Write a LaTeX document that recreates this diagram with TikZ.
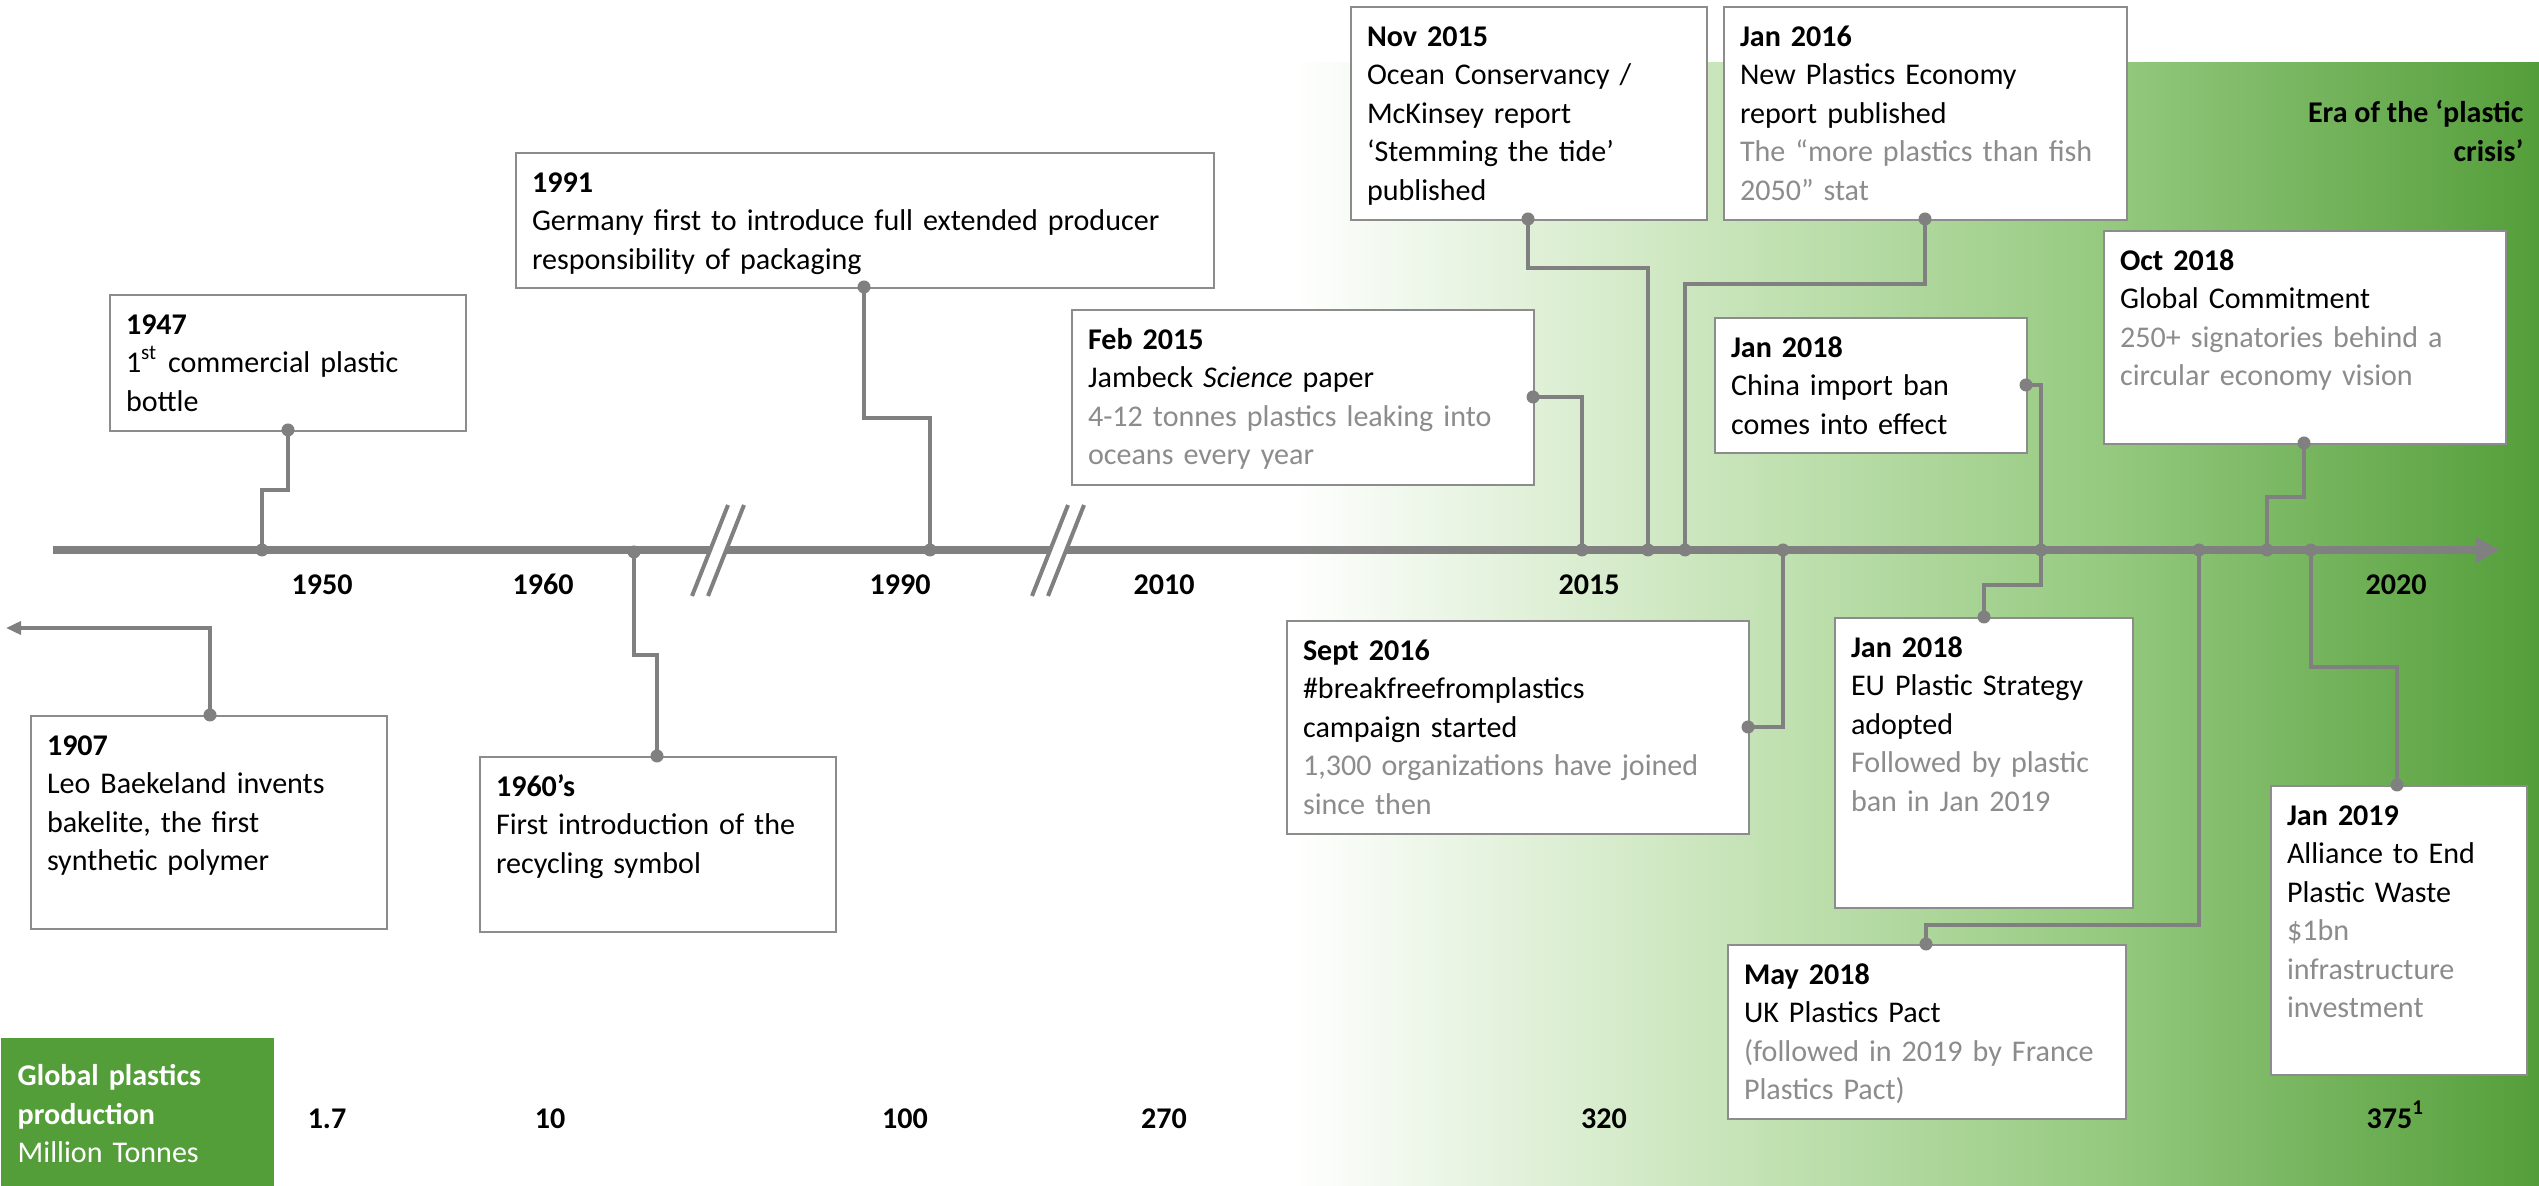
\documentclass[tikz,border=0pt]{standalone}
\usepackage{fontspec}
\setmainfont{Carlito}
\usepackage{tikz}
\usetikzlibrary{arrows.meta}

\definecolor{linegray}{RGB}{128,128,128}
\definecolor{boxgray}{RGB}{140,140,140}
\definecolor{textgray}{RGB}{140,140,140}
\definecolor{eralight}{RGB}{201,229,187}
\definecolor{eramid}{RGB}{150,202,128}
\definecolor{eradark}{RGB}{84,158,58}
\pgfdeclarehorizontalshading{erashade}{100bp}{color(0bp)=(white); color(25bp)=(white); color(42bp)=(eralight); color(57.5bp)=(eramid); color(75bp)=(eradark); color(100bp)=(eradark)}

\newcommand{\tlfont}{\fontsize{8.55pt}{10.96pt}\selectfont}

\begin{document}
\begin{tikzpicture}[x=0.01cm, y=-0.01cm, font=\tlfont]
      \tikzstyle{event} = [
        rectangle,
        draw=boxgray,
        line width=0.02cm,
        fill=white,
        anchor=north west,
        align=left,
        inner xsep=0.16cm,
        inner ysep=0.21cm,
        text height=0.18cm
      ]

      \tikzstyle{dot} = [
        circle,
        fill=linegray,
        minimum size=0.13cm,
        inner sep=0pt
      ]

      \tikzstyle{link} = [
        draw=linegray,
        line width=0.035cm
      ]

      \tikzstyle{timeline} = [
        draw=linegray,
        line width=0.077cm
      ]

      \tikzstyle{cut} = [
        draw=linegray,
        line width=0.04cm
      ]

      \tikzstyle{yearlabel} = [
        font=\tlfont\bfseries,
        anchor=base,
        inner sep=0pt
      ]

      \tikzstyle{prodbox} = [
        rectangle,
        fill=eradark,
        text=white,
        anchor=north west,
        align=left,
        text width=2.39cm,
        inner xsep=0.17cm,
        inner ysep=0.30cm,
        text height=0.18cm,
        text depth=0.71cm
      ]

      \useasboundingbox (0,0) rectangle (2539,1186);

      \shade[shading=erashade] (1290,63) rectangle (2539,1186);

      \node[prodbox] (prod) at (0,1037) {{\bfseries Global plastics}\\{\bfseries production}\\Million Tonnes};

      \coordinate (axl) at (53,550);
      \coordinate (axr) at (2500,550);
      \draw[timeline, -{Triangle[length=0.24cm, width=0.24cm]}] (axl) -- (axr);

      \fill[white] (728,505) -- (744,505) -- (708,596) -- (692,596) -- cycle;
      \draw[cut] (728,505) -- (692,596);
      \draw[cut] (744,505) -- (708,596);
      \fill[white] (1068,505) -- (1084,505) -- (1048,596) -- (1032,596) -- cycle;
      \draw[cut] (1068,505) -- (1032,596);
      \draw[cut] (1084,505) -- (1048,596);

      \node[event, text width=3.24cm, text depth=1.53cm] (b1907) at (30,715) {\textbf{1907}\\Leo Baekeland invents\\bakelite, the first\\synthetic polymer};
      \node[event, text width=3.24cm, text depth=1.15cm] (b1960) at (479,756) {\textbf{1960’s}\\First introduction of the\\recycling symbol};
      \node[event, text width=3.24cm, text depth=0.76cm] (b1947) at (109,294) {\textbf{1947}\\1\textsuperscript{st} commercial plastic\\bottle};
      \node[event, text width=6.66cm, text depth=0.75cm] (b1991) at (515,152) {\textbf{1991}\\Germany first to introduce full extended producer\\responsibility of packaging};
      \node[event, text width=4.30cm, text depth=1.15cm] (bFeb15) at (1071,309) {\textbf{Feb 2015}\\Jambeck \textit{Science} paper\\\color{textgray}4-12 tonnes plastics leaking into\\oceans every year};
      \node[event, text width=3.24cm, text depth=1.53cm] (bNov15) at (1350,6) {\textbf{Nov 2015}\\Ocean Conservancy /\\McKinsey report\\‘Stemming the tide’\\published};
      \node[event, text width=3.71cm, text depth=1.53cm] (bJan16) at (1723,6) {\textbf{Jan 2016}\\New Plastics Economy\\report published\\\color{textgray}The “more plastics than fish\\2050” stat};
      \node[event, text width=2.80cm, text depth=0.75cm] (bChina) at (1714,317) {\textbf{Jan 2018}\\China import ban\\comes into effect};
      \node[event, text width=3.70cm, text depth=1.53cm] (bOct18) at (2103,230) {\textbf{Oct 2018}\\Global Commitment\\\color{textgray}250+ signatories behind a\\circular economy vision};
      \node[event, text width=4.30cm, text depth=1.53cm] (bSept16) at (1286,620) {\textbf{Sept 2016}\\\#breakfreefromplastics\\campaign started\\\color{textgray}1,300 organizations have joined\\since then};
      \node[event, text width=2.66cm, text depth=2.30cm] (bEU) at (1834,617) {\textbf{Jan 2018}\\EU Plastic Strategy\\adopted\\\color{textgray}Followed by plastic\\ban in Jan 2019};
      \node[event, text width=3.66cm, text depth=1.14cm] (bMay18) at (1727,944) {\textbf{May 2018}\\UK Plastics Pact\\\color{textgray}(followed in 2019 by France\\Plastics Pact)};
      \node[event, text width=2.24cm, text depth=2.29cm] (bJan19) at (2270,785) {\textbf{Jan 2019}\\Alliance to End\\Plastic Waste\\\color{textgray}\$1bn\\infrastructure\\investment};

      \node[dot] (d1907) at (210,715) {};
      \node[dot] (d1960) at (657,756) {};
      \node[dot] (d1947) at (288,430) {};
      \node[dot] (d1991) at (864,287) {};
      \node[dot] (dFeb15) at (1533,397) {};
      \node[dot] (dNov15) at (1528,219) {};
      \node[dot] (dJan16) at (1925,219) {};
      \node[dot] (dChina) at (2026,385) {};
      \node[dot] (dOct18) at (2304,443) {};
      \node[dot] (dSept16) at (1748,727) {};
      \node[dot] (dEU) at (1984,617) {};
      \node[dot] (dMay18) at (1926,944) {};
      \node[dot] (dJan19) at (2397,785) {};

      \node[dot] (a1947) at (262,550) {};
      \node[dot] (a1960) at (634,552) {};
      \node[dot] (a1991) at (930,550) {};
      \node[dot] (aFeb15) at (1582,550) {};
      \node[dot] (aNov15) at (1648,550) {};
      \node[dot] (aJan16) at (1685,550) {};
      \node[dot] (aSept16) at (1783,550) {};
      \node[dot] (aJan18) at (2041,550) {};
      \node[dot] (aMay18) at (2199,550) {};
      \node[dot] (aOct18) at (2267,550) {};
      \node[dot] (aJan19) at (2311,550) {};

      \coordinate (tip1907) at (6,628);

      \draw[link, -{Triangle[length=0.15cm, width=0.13cm]}] (d1907.center) |- (tip1907);
      \draw[link] (d1947.center) -- ++(0,60) -| (a1947.center);
      \draw[link] (d1960.center) -- ++(0,-101) -| (a1960.center);
      \draw[link] (d1991.center) -- ++(0,131) -| (a1991.center);
      \draw[link] (dFeb15.center) -| (aFeb15.center);
      \draw[link] (dNov15.center) -- ++(0,49) -| (aNov15.center);
      \draw[link] (dJan16.center) -- ++(0,65) -| (aJan16.center);
      \draw[link] (dChina.center) -| (aJan18.center);
      \draw[link] (dEU.center) -- ++(0,-32) -| (aJan18.center);
      \draw[link] (dSept16.center) -| (aSept16.center);
      \draw[link] (dMay18.center) -- ++(0,-19) -| (aMay18.center);
      \draw[link] (dOct18.center) -- ++(0,54) -| (aOct18.center);
      \draw[link] (dJan19.center) -- ++(0,-118) -| (aJan19.center);

      \node[yearlabel] (y1950) at (322,595) {1950};
      \node[yearlabel] (y1960) at (543,595) {1960};
      \node[yearlabel] (y1990) at (900,595) {1990};
      \node[yearlabel] (y2010) at (1164,595) {2010};
      \node[yearlabel] (y2015) at (1589,595) {2015};
      \node[yearlabel] (y2020) at (2396,595) {2020};

      \node[yearlabel] (p1950) at (327,1128) {1.7};
      \node[yearlabel] (p1960) at (550,1128) {10};
      \node[yearlabel] (p1990) at (905,1128) {100};
      \node[yearlabel] (p2010) at (1164,1128) {270};
      \node[yearlabel] (p2015) at (1604,1128) {320};
      \node[yearlabel, anchor=base west] (p2020) at (2366,1128) {375\textsuperscript{1}};

      \node[font=\tlfont\bfseries, anchor=north east, align=right, inner sep=0pt] (era) at (2524,100) {Era of the ‘plastic\\crisis’};
    \end{tikzpicture}
\end{document}
